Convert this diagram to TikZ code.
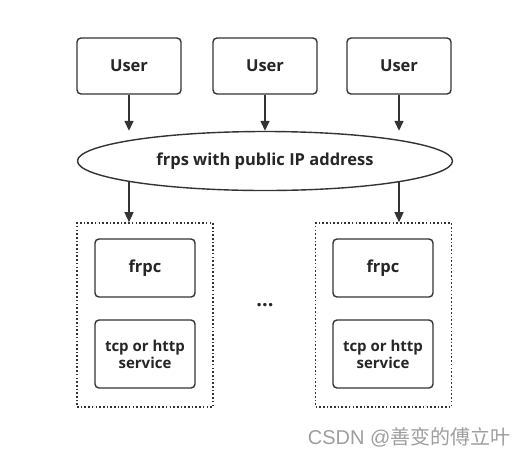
\documentclass[tikz,border=0pt]{standalone}
\usepackage{fontspec}
\setmainfont{Open Sans}
\newfontfamily\cjkfont{Noto Sans CJK SC}
\newfontfamily\markfont{Liberation Sans}
\usepackage{tikz}
\usetikzlibrary{arrows.meta}
\usetikzlibrary{shapes.geometric}
\usetikzlibrary{backgrounds}
\colorlet{darkline}{black!80}
\colorlet{darktext}{black!85}
\colorlet{marktext}{black!38}

\tikzset{
  userbox/.style={draw=darkline, line width=1.4pt, rounded corners=4pt,
    minimum width=104pt, minimum height=56pt, text=darktext,
    font=\fontsize{16.5}{19}\selectfont\bfseries},
  procbox/.style={draw=darkline, line width=1.4pt, rounded corners=4pt,
    minimum width=100pt, text=darktext, align=center,
    font=\fontsize{16.5}{19}\selectfont\bfseries},
  hostbox/.style={draw=darkline, line width=1.6pt, dash pattern=on 1.6pt off 2.1pt,
    minimum width=136pt, minimum height=184pt},
  serverell/.style={ellipse, draw=darkline, line width=1.4pt, fill=white,
    minimum width=375pt, minimum height=59pt, inner sep=0pt, text=darktext,
    font=\fontsize{16.5}{19}\selectfont\bfseries},
  flow/.style={draw=darkline, line width=1.4pt, -{Triangle[length=10pt,width=9pt]}},
}

\begin{document}
\begin{tikzpicture}[x=1pt,y=-1pt]
\useasboundingbox (0,0) rectangle (532,456);
% users on top
\node[userbox] (user1) at (129,66) {User};
\node[userbox] (user2) at (265,66) {User};
\node[userbox] (user3) at (399,66) {User};
% server
\node[serverell] (frps) at (265,161) {frps with public IP address};
% client hosts
\node[hostbox] (host1) at (145,315) {};
\node[hostbox] (host2) at (383.5,315) {};
\node[procbox, minimum height=58pt] (frpc1) at (145,268) {frpc};
\node[procbox, minimum height=68pt, font=\fontsize{15}{17}\selectfont\bfseries] (svc1) at (145,354) {tcp or http\\service};
\node[procbox, minimum height=58pt] (frpc2) at (383,268) {frpc};
\node[procbox, minimum height=68pt, font=\fontsize{15}{17}\selectfont\bfseries] (svc2) at (383,354) {tcp or http\\service};
\node[text=darktext, font=\fontsize{20}{24}\selectfont\bfseries] (gap) at (265,305) {...};
% arrows
\draw[flow] (user1) -- (user1 |- frps.north);
\draw[flow] (user2) -- (user2 |- frps.north);
\draw[flow] (user3) -- (user3 |- frps.north);
\begin{scope}[on background layer]
  \draw[flow] (frps.center -| user1) -- (user1 |- host1.north);
  \draw[flow] (frps.center -| user3) -- (user3 |- host2.north);
\end{scope}
\node[text=marktext, anchor=east, font=\fontsize{20}{24}\selectfont] (mark) at (514,437) {\markfont CSDN @\cjkfont 善变的傅立叶};
\end{tikzpicture}
\end{document}
